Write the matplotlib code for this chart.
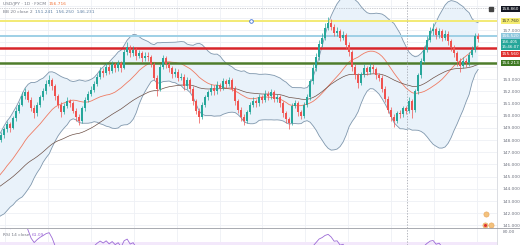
import numpy as np
import pandas as pd
import matplotlib
matplotlib.use("Agg")
import matplotlib.pyplot as plt
import matplotlib.transforms as mtransforms

# ---------------- data ----------------
# warm-up closes (before the visible window, used only for the indicators)
pre_close = [142.6, 142.9, 142.5, 143.2, 143.6, 143.3, 144.0, 144.4, 144.1, 144.8,
             145.3, 145.0, 145.7, 146.2, 145.9, 146.6, 147.1, 146.8, 147.5, 148.0]

close = [148.4, 148.9, 149.3, 149.0, 149.8, 150.4, 150.9, 151.6, 151.9, 151.3,
         150.6, 150.2, 150.9, 151.5, 152.0, 152.6, 152.9, 152.4, 151.6, 150.9,
         150.3, 150.8, 151.2, 151.0, 150.4, 149.9, 149.6, 150.6, 151.3, 151.8,
         152.1, 152.6, 153.2, 153.7, 153.5, 154.0, 153.7, 154.2, 153.9, 154.3,
         153.9, 155.2, 155.6, 155.1, 155.4, 154.9, 155.1, 154.7, 154.9, 154.8,
         154.2, 153.1, 152.2, 154.0, 154.7, 154.2, 153.9, 153.4, 153.6, 153.1,
         153.2, 152.4, 152.9, 152.2, 151.2, 150.4, 149.9, 150.9, 151.5, 151.9,
         152.3, 152.0, 152.5, 152.3, 152.8, 152.6, 152.9, 152.2, 151.2, 150.5,
         149.9, 149.6, 150.3, 150.9, 151.2, 151.0, 151.5, 151.3, 151.8, 151.6,
         151.9, 151.4, 151.5, 151.0, 150.2, 149.7, 149.4, 150.8, 151.0, 150.3,
         150.0, 150.9, 151.5, 152.8, 153.9, 154.8, 155.9, 156.4, 157.2, 157.6,
         157.3, 156.8, 156.9, 156.4, 156.6, 155.8, 155.2, 154.0, 153.3, 152.7,
         153.4, 153.9, 153.6, 154.0, 153.8, 153.3, 153.1, 152.2, 151.4, 150.5,
         149.9, 149.6, 150.2, 150.1, 150.6, 150.4, 151.2, 150.5, 152.0, 153.3,
         154.5, 155.4, 156.2, 156.9, 157.1, 156.6, 156.9, 156.4, 156.7, 156.1,
         155.6, 155.1, 154.5, 154.1, 154.5, 154.3, 155.0, 155.4, 156.5, 156.3]

high = [148.7, 149.1, 149.6, 149.5, 150.0, 150.7, 151.1, 151.9, 152.3, 152.1,
        151.5, 150.9, 151.1, 151.7, 152.3, 152.9, 153.3, 153.1, 152.6, 151.8,
        151.1, 151.0, 151.5, 151.4, 151.2, 150.6, 150.1, 150.8, 151.5, 152.0,
        152.4, 152.8, 153.4, 154.0, 153.9, 154.3, 154.2, 154.5, 154.4, 154.6,
        154.5, 155.5, 156.0, 155.8, 155.7, 155.6, 155.4, 155.3, 155.2, 155.2,
        155.0, 154.4, 153.3, 154.2, 155.0, 154.9, 154.4, 154.1, 153.9, 153.8,
        153.5, 153.4, 153.2, 153.1, 152.4, 151.4, 150.6, 151.1, 151.7, 152.1,
        152.6, 152.5, 152.8, 152.7, 153.1, 153.0, 153.2, 153.1, 152.4, 151.4,
        150.7, 150.1, 150.5, 151.1, 151.5, 151.4, 151.8, 151.7, 152.1, 152.0,
        152.2, 152.1, 151.8, 151.7, 151.2, 150.4, 149.9, 151.0, 151.3, 151.2,
        150.5, 151.1, 151.8, 153.0, 154.2, 155.1, 156.2, 156.8, 157.6, 158.1,
        157.9, 157.5, 157.3, 157.1, 156.9, 156.8, 156.0, 155.4, 154.2, 153.5,
        153.6, 154.2, 154.1, 154.3, 154.2, 154.0, 153.5, 153.3, 152.4, 151.6,
        150.7, 150.1, 150.4, 150.5, 150.8, 150.8, 151.5, 151.4, 152.2, 153.5,
        154.7, 155.7, 156.5, 157.3, 157.6, 157.3, 157.2, 157.1, 157.0, 156.9,
        156.3, 155.8, 155.3, 154.7, 154.8, 154.7, 155.2, 155.7, 156.8, 156.8]

low = [147.8, 148.2, 148.7, 148.7, 148.9, 149.6, 150.2, 150.8, 151.4, 151.1,
       150.4, 149.8, 150.0, 150.7, 151.3, 151.8, 152.4, 152.1, 151.3, 150.6,
       149.9, 150.1, 150.6, 150.7, 150.2, 149.6, 149.2, 149.4, 150.4, 151.1,
       151.6, 151.9, 152.4, 153.0, 153.2, 153.3, 153.4, 153.5, 153.6, 153.7,
       153.6, 153.8, 155.0, 154.8, 154.9, 154.6, 154.7, 154.4, 154.5, 154.5,
       154.0, 152.9, 151.6, 152.0, 153.8, 153.9, 153.6, 153.1, 153.2, 152.8,
       152.9, 152.1, 152.2, 151.9, 150.9, 150.1, 149.4, 149.7, 150.7, 151.3,
       151.7, 151.7, 151.8, 152.0, 152.1, 152.3, 152.4, 152.0, 150.9, 150.2,
       149.6, 149.2, 149.4, 150.1, 150.7, 150.7, 150.8, 151.0, 151.1, 151.3,
       151.4, 151.1, 151.1, 150.7, 149.9, 149.4, 148.9, 149.2, 150.6, 150.0,
       149.7, 149.8, 150.7, 151.3, 152.6, 153.7, 154.6, 155.6, 156.2, 157.0,
       157.0, 156.5, 156.5, 156.1, 156.2, 155.5, 154.9, 153.7, 153.0, 152.3,
       152.5, 153.2, 153.3, 153.4, 153.5, 153.0, 152.8, 151.9, 151.1, 150.2,
       149.6, 149.1, 149.4, 149.8, 149.9, 150.1, 150.2, 149.8, 150.3, 151.8,
       153.1, 154.3, 155.2, 156.0, 156.6, 156.3, 156.4, 156.1, 156.2, 155.8,
       155.3, 154.8, 154.1, 153.6, 153.9, 154.0, 154.1, 154.8, 155.2, 156.0]

# horizontal levels drawn on the chart
level_yellow = 157.76
level_blue = 156.52
level_red = 155.54
level_green = 154.30
crosshair_price = 158.80
crosshair_bar = 135.2

price_ticks = [141, 142, 143, 144, 145, 146, 147, 148, 149, 150, 151, 152, 153, 157]

legend_line1 = "USD/JPY · 1D · FXCM  "
legend_val1 = "156.716"
legend_line2 = "BB 20 close 2  "
legend_val2 = "151.241  156.250  146.231"
rsi_label = "RSI 14 close  "
rsi_val = "61.09"

# ---------------- indicators ----------------
all_close = pd.Series(pre_close + close)
npre = len(pre_close)
idx_all = np.arange(len(all_close)) - npre
basis = all_close.rolling(20, min_periods=1).mean()
sd = all_close.rolling(20, min_periods=2).std(ddof=0).bfill()
upper = basis + 2 * sd
lower = basis - 2 * sd
slow = all_close.ewm(span=50, adjust=False).mean()

delta = all_close.diff()
gain = delta.clip(lower=0)
loss = -delta.clip(upper=0)
ag = gain.ewm(alpha=1 / 14, adjust=False).mean()
al = loss.ewm(alpha=1 / 14, adjust=False).mean()
rsi = 100 - 100 / (1 + ag / al.replace(0, np.nan))
rsi = rsi.fillna(50)

opn = [pre_close[-1]] + close[:-1]

# ---------------- figure ----------------
W, H = 520, 245
fig = plt.figure(figsize=(W / 100, H / 100), dpi=100)
fig.patch.set_facecolor("white")
axr = 497 / W
ax = fig.add_axes([0, 17 / H, axr, 228 / H])
ax2 = fig.add_axes([0, 0, axr, 16 / H])

ax.set_xlim(-0.4, 165.3)
ax.set_ylim(140.79, 159.48)

grid_c = "#eef0f5"
for gx in np.arange(1.3, 166, 14.3):
    ax.axvline(gx, color=grid_c, lw=0.6, zorder=0)
    ax2.axvline(gx, color=grid_c, lw=0.6, zorder=0)
for gy in range(141, 160):
    ax.axhline(gy, color=grid_c, lw=0.6, zorder=0)

# Bollinger bands
ax.fill_between(idx_all, lower, upper, color="#e9f2fa", lw=0, zorder=1)
ax.plot(idx_all, upper, color="#7f97ad", lw=0.6, zorder=2)
ax.plot(idx_all, lower, color="#7f97ad", lw=0.6, zorder=2)
ax.plot(idx_all, basis, color="#ef7b63", lw=0.6, zorder=2)
ax.plot(idx_all, slow, color="#6d5046", lw=0.5, zorder=2)

# levels
ax.axhline(level_yellow, color="#f3ea74", lw=1.4, zorder=3)
ax.axhline(level_blue, color="#9ed0e6", lw=1.4, zorder=3)
ax.axhline(level_red, color="#d8262b", lw=1.8, zorder=3)
ax.axhline(level_green, color="#4f7d2c", lw=1.8, zorder=3)
ax.axhline(crosshair_price, color="#9a9da6", lw=0.5, ls=(0, (1, 1.5)), zorder=3)
ax.axvline(crosshair_bar, color="#9a9da6", lw=0.5, ls=(0, (2, 2)), zorder=3)
ax2.axvline(crosshair_bar, color="#9a9da6", lw=0.5, ls=(0, (2, 2)), zorder=3)
ax.plot([83.2], [level_yellow], marker="o", ms=2.6, mfc="white", mec="#3d6fd8", mew=0.6, zorder=5)

# candles
up_c, dn_c = "#26a69a", "#ef5350"
for i, (o, h, l, c) in enumerate(zip(opn, high, low, close)):
    col = up_c if c >= o else dn_c
    ax.vlines(i, l, h, color=col, lw=0.5, zorder=4)
    ax.bar(i, max(abs(c - o), 0.04), bottom=min(o, c), width=0.62, color=col, lw=0, zorder=4)

# event icons
ax.scatter([161.6, 161.4, 163.4], [141.9, 141.0, 141.0], s=14, color="#f3c27d", edgecolor="#e7a35a",
           lw=0.4, zorder=6)
ax.scatter([161.4], [141.0], s=1.5, color="#d33", zorder=7)

# axes styling
for a in (ax, ax2):
    a.set_xticks([])
    for s in ("top", "left", "bottom"):
        a.spines[s].set_visible(False)
    a.spines["right"].set_color("#d6d8de")
    a.spines["right"].set_linewidth(0.6)
    a.set_facecolor("white")

ax.yaxis.tick_right()
ax.set_yticks(price_ticks)
ax.set_yticklabels([f"{t:.3f}" for t in price_ticks])
ax.tick_params(axis="y", length=0, labelsize=3.2, labelcolor="#6f7380", pad=4)

# separator
fig.add_artist(plt.Line2D([0, 1], [17 / H, 17 / H], color="#9a9ca3", lw=0.6))

# right colored labels
tr = mtransforms.blended_transform_factory(ax.transAxes, ax.transData)


def tag(y, txt, bg, fg="white", ls=1.0, fs=3.1):
    ax.text(1.01, y, txt, transform=tr, fontsize=fs, color=fg, va="center", ha="left",
            linespacing=ls, clip_on=False,
            bbox=dict(boxstyle="square,pad=0.3", fc=bg, ec="none"), zorder=10)


tag(158.74, "158.860", "#131722")
tag(157.76, "157.760", "#f4ec70", fg="#3a3a2a")
tag(156.52, "156.520", "#8fc8de")
tag(155.82, "156.405\n15:46:07", "#26a69a", ls=1.1, fs=2.9)
tag(155.05, "155.560", "#e0312f")
tag(154.30, "154.213", "#3f7a24")
ax.plot([1.0 - 0.012], [158.74], marker="s", ms=2.2, color="#444", transform=tr, clip_on=False, zorder=10)

# top-left legend
t1 = ax.text(0.006, 0.993, legend_line1, transform=ax.transAxes, fontsize=3.2, color="#787b86",
             va="top", ha="left")
fig.canvas.draw()
bb = t1.get_window_extent()
inv = ax.transAxes.inverted()
x1 = inv.transform((bb.x1, bb.y1))[0]
ax.text(x1, 0.993, legend_val1, transform=ax.transAxes, fontsize=3.2, color="#f2763b", va="top", ha="left")
t2 = ax.text(0.006, 0.958, legend_line2, transform=ax.transAxes, fontsize=3.2, color="#787b86",
             va="top", ha="left")
fig.canvas.draw()
bb = t2.get_window_extent()
x2 = inv.transform((bb.x1, bb.y1))[0]
ax.text(x2, 0.958, legend_val2, transform=ax.transAxes, fontsize=3.2, color="#5d7fa3", va="top", ha="left")

# RSI panel
ax2.set_xlim(ax.get_xlim())
ax2.set_ylim(66.5, 82.8)
ax2.axhspan(30, 70, color="#f3e8fb", lw=0, zorder=0)
ax2.plot(idx_all, rsi, color="#9c6ad6", lw=0.6, zorder=3)
ax2.yaxis.tick_right()
ax2.set_yticks([80])
ax2.set_yticklabels(["80.00"])
ax2.tick_params(axis="y", length=0, labelsize=3.2, labelcolor="#6f7380", pad=4)
r1 = ax2.text(0.006, 0.62, rsi_label, transform=ax2.transAxes, fontsize=3.2, color="#787b86",
              va="center", ha="left")
fig.canvas.draw()
bb = r1.get_window_extent()
x3 = ax2.transAxes.inverted().transform((bb.x1, bb.y1))[0]
ax2.text(x3, 0.62, rsi_val, transform=ax2.transAxes, fontsize=3.2, color="#9c6ad6", va="center", ha="left")

fig.savefig("out.png", dpi=100, facecolor="white")
